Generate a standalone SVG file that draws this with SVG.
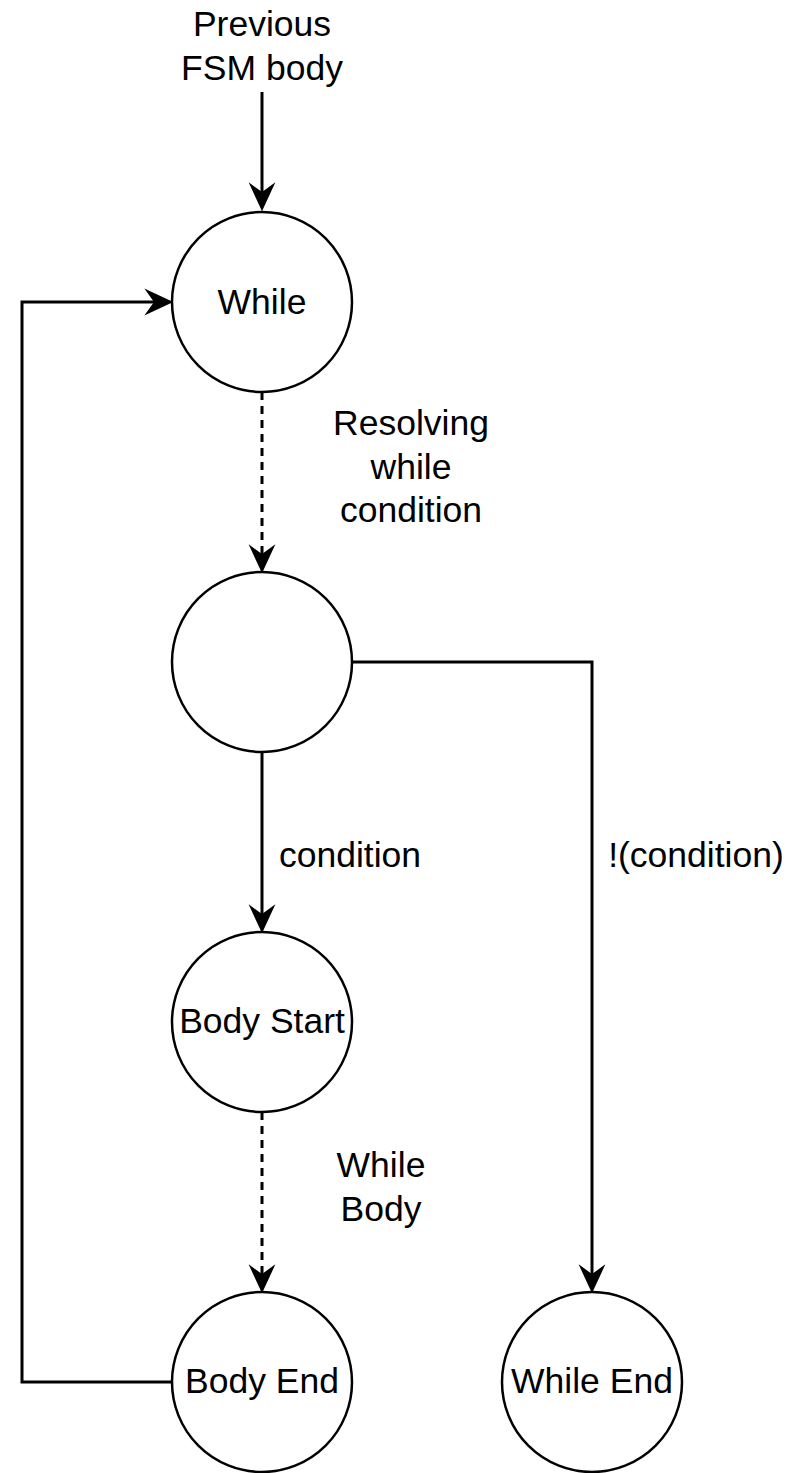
<svg xmlns="http://www.w3.org/2000/svg" width="804" height="1473" viewBox="0 0 804 1473">
  <style>
    .node circle { fill: #ffffff; stroke: #000000; stroke-width: 2.5; }
    .edge { fill: none; stroke: #000000; stroke-width: 3; }
    .dashed { stroke-dasharray: 8 6; }
    text { font-family: "Liberation Sans", Arial, Helvetica, sans-serif; font-size: 35.5px; fill: #000000; text-anchor: middle; }
  </style>
  <defs>
    <marker id="arrow" markerUnits="userSpaceOnUse" markerWidth="30" markerHeight="30" viewBox="0 -14 28 28" refX="9" refY="0" orient="auto" overflow="visible">
      <path d="M0,-12.5 L27,0 L0,12.5 L9,0 Z" fill="#000000" stroke="none"/>
    </marker>
  </defs>
  <rect x="0" y="0" width="804" height="1473" fill="#ffffff"/>

  <g id="connectors">
    <path class="edge" d="M262,92 V192" marker-end="url(#arrow)"/>
    <path class="edge dashed" d="M262,392 V554" marker-end="url(#arrow)"/>
    <path class="edge" d="M262,752 V914" marker-end="url(#arrow)"/>
    <path class="edge dashed" d="M262,1112 V1274" marker-end="url(#arrow)"/>
    <path class="edge" d="M352,662 H592 V1274" marker-end="url(#arrow)"/>
    <path class="edge" d="M172,1382 H22 V302 H154" marker-end="url(#arrow)"/>
  </g>

  <g id="labels">
    <text x="262" y="36">Previous</text>
    <text x="262" y="80">FSM body</text>
    <text x="411" y="435">Resolving</text>
    <text x="411" y="478.5">while</text>
    <text x="411" y="522">condition</text>
    <text x="350" y="867">condition</text>
    <text x="696" y="867">!(condition)</text>
    <text x="381" y="1177">While</text>
    <text x="381" y="1221">Body</text>
  </g>

  <g id="node-while" class="node">
    <circle cx="262" cy="302" r="90"/>
    <text x="262" y="314">While</text>
  </g>
  <g id="node-condition" class="node">
    <circle cx="262" cy="662" r="90"/>
  </g>
  <g id="node-body-start" class="node">
    <circle cx="262" cy="1022" r="90"/>
    <text x="262" y="1033">Body Start</text>
  </g>
  <g id="node-body-end" class="node">
    <circle cx="262" cy="1382" r="90"/>
    <text x="262" y="1393">Body End</text>
  </g>
  <g id="node-while-end" class="node">
    <circle cx="592" cy="1382" r="90"/>
    <text x="592" y="1393">While End</text>
  </g>
</svg>
